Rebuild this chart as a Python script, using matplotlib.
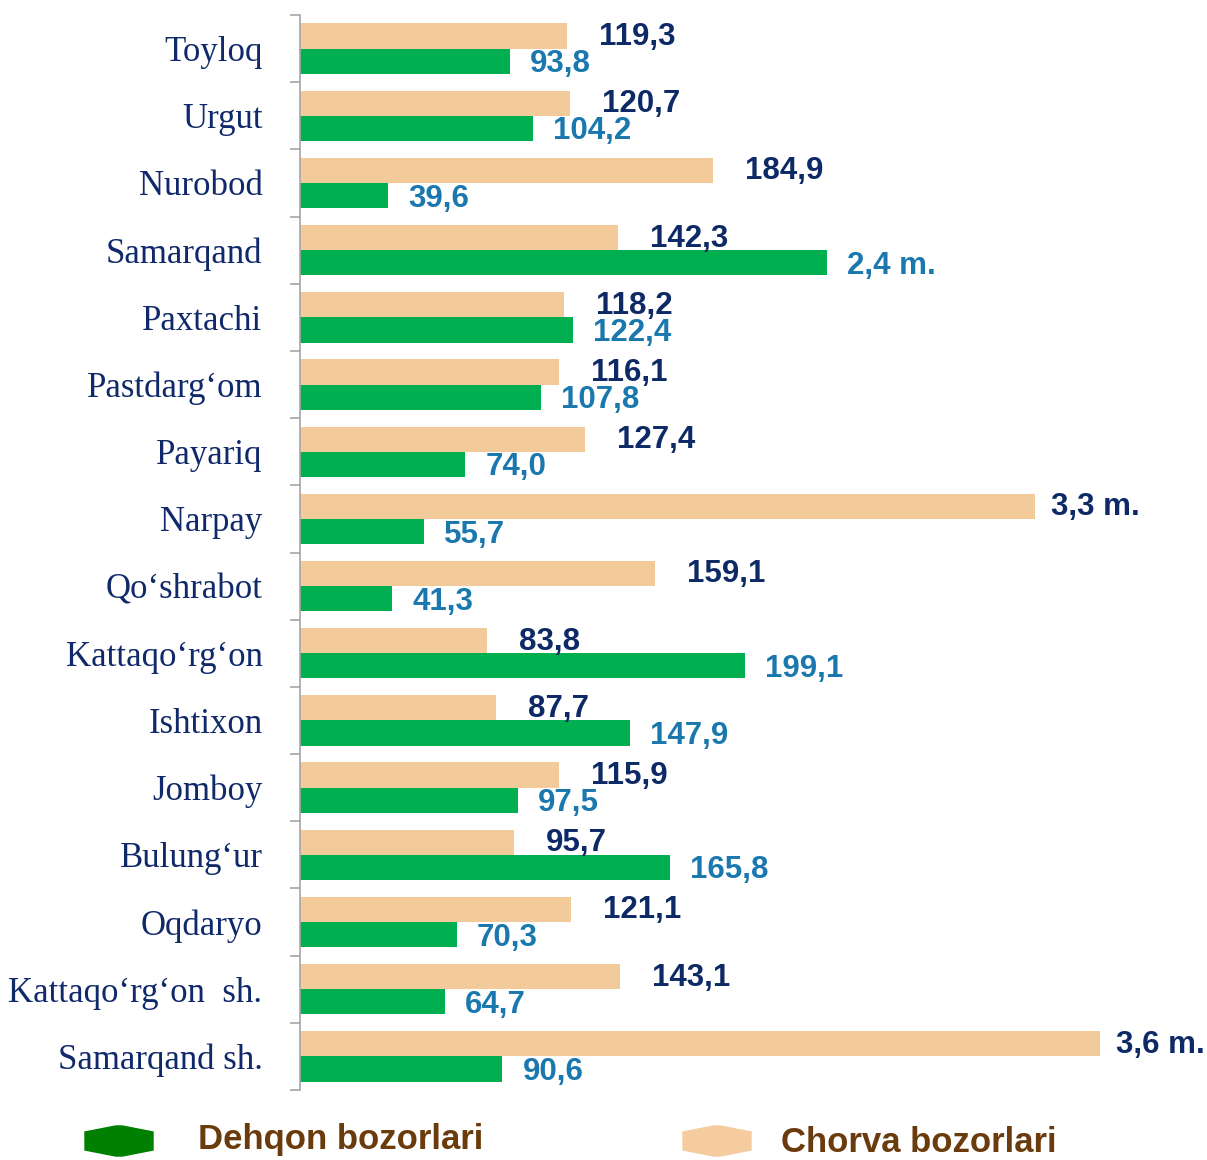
import matplotlib.pyplot as plt
import numpy as np
from matplotlib.patches import Polygon

districts = ["Toyloq", "Urgut", "Nurobod", "Samarqand", "Paxtachi", "Pastdarg‘om",
             "Payariq", "Narpay", "Qo‘shrabot", "Kattaqo‘rg‘on", "Ishtixon", "Jomboy",
             "Bulung‘ur", "Oqdaryo", "Kattaqo‘rg‘on  sh.", "Samarqand sh."]
# chorva (livestock) markets, %
chorva = [119.3, 120.7, 184.9, 142.3, 118.2, 116.1, 127.4, 329, 159.1, 83.8,
          87.7, 115.9, 95.7, 121.1, 143.1, 358]
# dehqon (farmers) markets, %
dehqon = [93.8, 104.2, 39.6, 236, 122.4, 107.8, 74.0, 55.7, 41.3, 199.1,
          147.9, 97.5, 165.8, 70.3, 64.7, 90.6]


def fmt(v):
    # values of 200% and more are written as "N marta" (times)
    if v >= 200:
        return f"{v / 100:.1f} m.".replace(".", ",", 1)
    return f"{v:.1f}".replace(".", ",")


W, H = 1207, 1160
fig = plt.figure(figsize=(W / 100, H / 100), dpi=100)
ax = fig.add_axes([300 / W, 1 - 1090 / H, 907 / W, 1075 / H])

y = np.arange(len(districts))
bh = 0.375
orange = "#F3CB9B"
green = "#00B050"
ax.barh(y - bh / 2, chorva, height=bh, color=orange)
ax.barh(y + bh / 2, dehqon, height=bh, color=green)

for yi, v in zip(y, chorva):
    dx = 16 if v >= 200 else 32
    ax.annotate(fmt(v), (v, yi - bh / 2), xytext=(dx, -1), textcoords="offset pixels",
                ha="left", va="center", fontsize=22.5, fontweight="bold",
                family="Liberation Sans", color="#0E2A66")
for yi, v in zip(y, dehqon):
    ax.annotate(fmt(v), (v, yi + bh / 2), xytext=(20, -3), textcoords="offset pixels",
                ha="left", va="center", fontsize=22.5, fontweight="bold",
                family="Liberation Sans", color="#1A78AE")

ax.set_xlim(0, 406)
ax.set_ylim(len(districts) - 0.5, -0.5)
ax.set_xticks([])

ax.set_yticks(np.arange(len(districts) + 1) - 0.5)
ax.set_yticklabels([])
ax.set_yticks(y, minor=True)
ax.set_yticklabels(districts, minor=True, family="Liberation Serif", fontsize=25,
                   color="#10296A")
ax.tick_params(axis="y", which="major", length=7, width=1.2, color="#A6A6A6")
ax.tick_params(axis="y", which="minor", length=0, pad=27)

for s in ["top", "right", "bottom"]:
    ax.spines[s].set_visible(False)
ax.spines["left"].set_color("#A6A6A6")
ax.spines["left"].set_linewidth(1.2)


def hexagon(x0, yc, w, h, color):
    pts = [(x0, yc - 0.3 * h), (x0 + 0.45 * w, yc - 0.5 * h), (x0 + 0.55 * w, yc - 0.5 * h),
           (x0 + w, yc - 0.3 * h), (x0 + w, yc + 0.3 * h), (x0 + 0.55 * w, yc + 0.5 * h),
           (x0 + 0.45 * w, yc + 0.5 * h), (x0, yc + 0.3 * h)]
    pts = [(px / W, 1 - py / H) for px, py in pts]
    fig.patches.append(Polygon(pts, closed=True, color=color, transform=fig.transFigure))


hexagon(85, 1141, 68, 30, "#008000")
hexagon(683, 1141, 68, 30, "#F5CC9F")
fig.text(198 / W, 1 - 1140 / H, "Dehqon bozorlari", ha="left", va="center",
         fontsize=25, fontweight="bold", family="Liberation Sans", color="#6A3B0C")
fig.text(781 / W, 1 - 1143 / H, "Chorva bozorlari", ha="left", va="center",
         fontsize=25, fontweight="bold", family="Liberation Sans", color="#6A3B0C")

fig.savefig("out.png", dpi=100)
